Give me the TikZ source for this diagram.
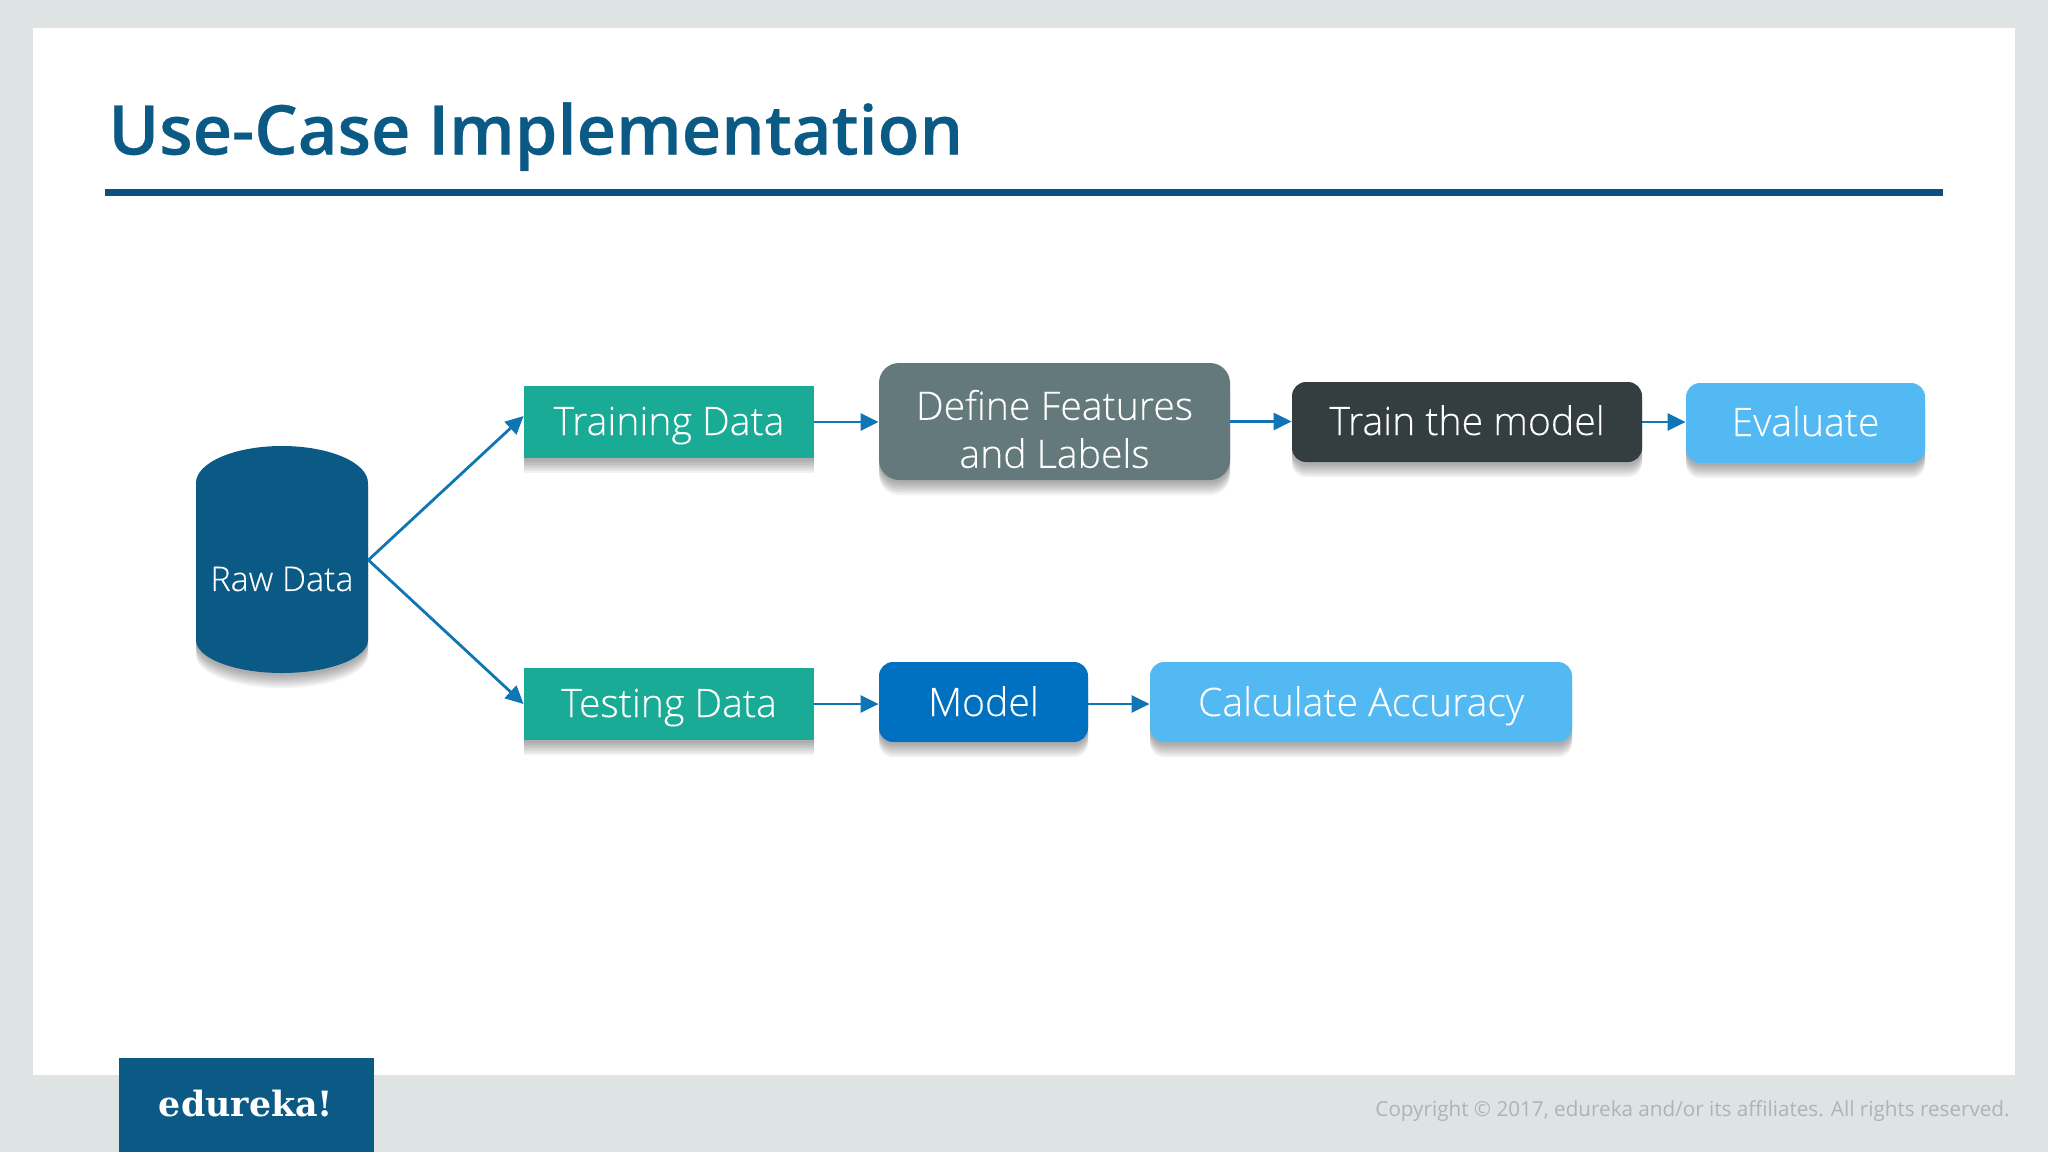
\documentclass[tikz,border=0pt]{standalone}
\usepackage{fontspec}
\setmainfont[FakeBold=0.15]{Open Sans Light}
\newfontfamily\titlefont[FakeBold=0.4]{Open Sans Semibold}
\newfontfamily\regfont{Open Sans}
\newfontfamily\logofont{DejaVu Serif}
\usetikzlibrary{arrows.meta}
\definecolor{pagebg}{HTML}{DEE3E3}
\definecolor{navy}{HTML}{0B5A85}
\definecolor{rulec}{HTML}{0A4F80}
\definecolor{teal}{HTML}{1AAB96}
\definecolor{slate}{HTML}{64797B}
\definecolor{coal}{HTML}{343D40}
\definecolor{sky}{HTML}{53B9F3}
\definecolor{modelblue}{HTML}{0070C0}
\definecolor{arrowc}{HTML}{0F75B5}
\definecolor{foot}{HTML}{AEB4B5}
\tikzset{
  x=0.5pt,y=-0.5pt,
  shadowlayer/.style={preaction={fill=black,fill opacity=0.05,transform canvas={yshift=-#1}}},
  softshadow/.style={shadowlayer=7.5pt,shadowlayer=6.5pt,shadowlayer=5.5pt,shadowlayer=4.5pt,shadowlayer=3.5pt,shadowlayer=2.5pt,shadowlayer=1.5pt},
  flowbox/.style={inner sep=0pt,align=center,text=white,font=\fontsize{19.6}{24}\selectfont,softshadow},
  oneline/.style={text height=15.5pt,text depth=2.5pt},
  onelinelow/.style={text height=16pt,text depth=2pt},
  flow/.style={draw=arrowc,line width=1.4pt,-{Triangle[length=9pt,width=8.5pt]}},
}
\begin{document}
\begin{tikzpicture}
\useasboundingbox (0,0) rectangle (2048,1152);
\fill[pagebg] (0,0) rectangle (2048,1152);
\fill[white] (33,28) rectangle (2015,1075);
\node[anchor=base west,inner sep=0pt,text=navy,font=\titlefont\fontsize{34.3}{40}\selectfont] (title) at (108,154.5) {Use-Case Implementation};
\fill[rulec] (104.5,188.5) rectangle (1943,195.5);

\fill[navy,softshadow] (196,483)
  .. controls (196,462.6) and (234.5,446) .. (282,446)
  .. controls (329.5,446) and (368,462.6) .. (368,483)
  -- (368,640)
  .. controls (368,658.2) and (329.5,673) .. (282,673)
  .. controls (234.5,673) and (196,658.2) .. (196,640) -- cycle;
\node[inner sep=0pt,minimum width=86pt,minimum height=113.5pt] (raw) at (282,560) {};
\node[text=white,inner sep=0pt,font=\fontsize{17}{20}\selectfont] (rawtext) at (282,579) {Raw Data};

\node[flowbox,oneline,fill=teal,minimum width=145pt,minimum height=36pt] (training) at (669,422) {Training Data};
\node[flowbox,oneline,fill=teal,minimum width=145pt,minimum height=36pt] (testing) at (669,704) {Testing Data};
\node[flowbox,fill=slate,rounded corners=10pt,minimum width=175.5pt,minimum height=58.5pt] (define) at (1054.5,421.5) {\rule{0pt}{22.5pt}Define Features\\and Labels};
\node[flowbox,oneline,fill=coal,rounded corners=7pt,minimum width=175pt,minimum height=40pt] (train) at (1467,422) {Train the model};
\node[flowbox,oneline,fill=sky,rounded corners=7pt,minimum width=119.5pt,minimum height=40pt] (evaluate) at (1805.5,423) {Evaluate};
\node[flowbox,onelinelow,fill=modelblue,rounded corners=7pt,minimum width=104.5pt,minimum height=40pt] (model) at (983.5,702) {Model};
\node[flowbox,onelinelow,fill=sky,rounded corners=7pt,minimum width=211pt,minimum height=40pt] (accuracy) at (1361,702) {Calculate Accuracy};

\coordinate (trainingin) at ([yshift=3pt]training.west);
\draw[flow] (raw.east) -- (trainingin);
\draw[flow] (raw.east) -- (testing.west);
\draw[flow] (training.east) -- (training.east -| define.west);
\draw[flow] (define.east) -- (define.east -| train.west);
\draw[flow] (train.east) -- (train.east -| evaluate.west);
\draw[flow] (testing.east) -- (testing.east -| model.west);
\draw[flow] (model.east |- testing.east) -- (testing.east -| accuracy.west);

\fill[navy] (119,1058) rectangle (373.5,1152);
\node[inner sep=0pt,text=white,font=\logofont\bfseries\fontsize{17.4}{21}\selectfont] (logo) at (246,1104) {edureka!};
\node[anchor=east,inner sep=0pt,text=foot,font=\regfont\fontsize{10.33}{13}\selectfont] (copy) at (2010,1111) {Copyright © 2017, edureka and/or its affiliates. All rights reserved.};
\end{tikzpicture}
\end{document}
